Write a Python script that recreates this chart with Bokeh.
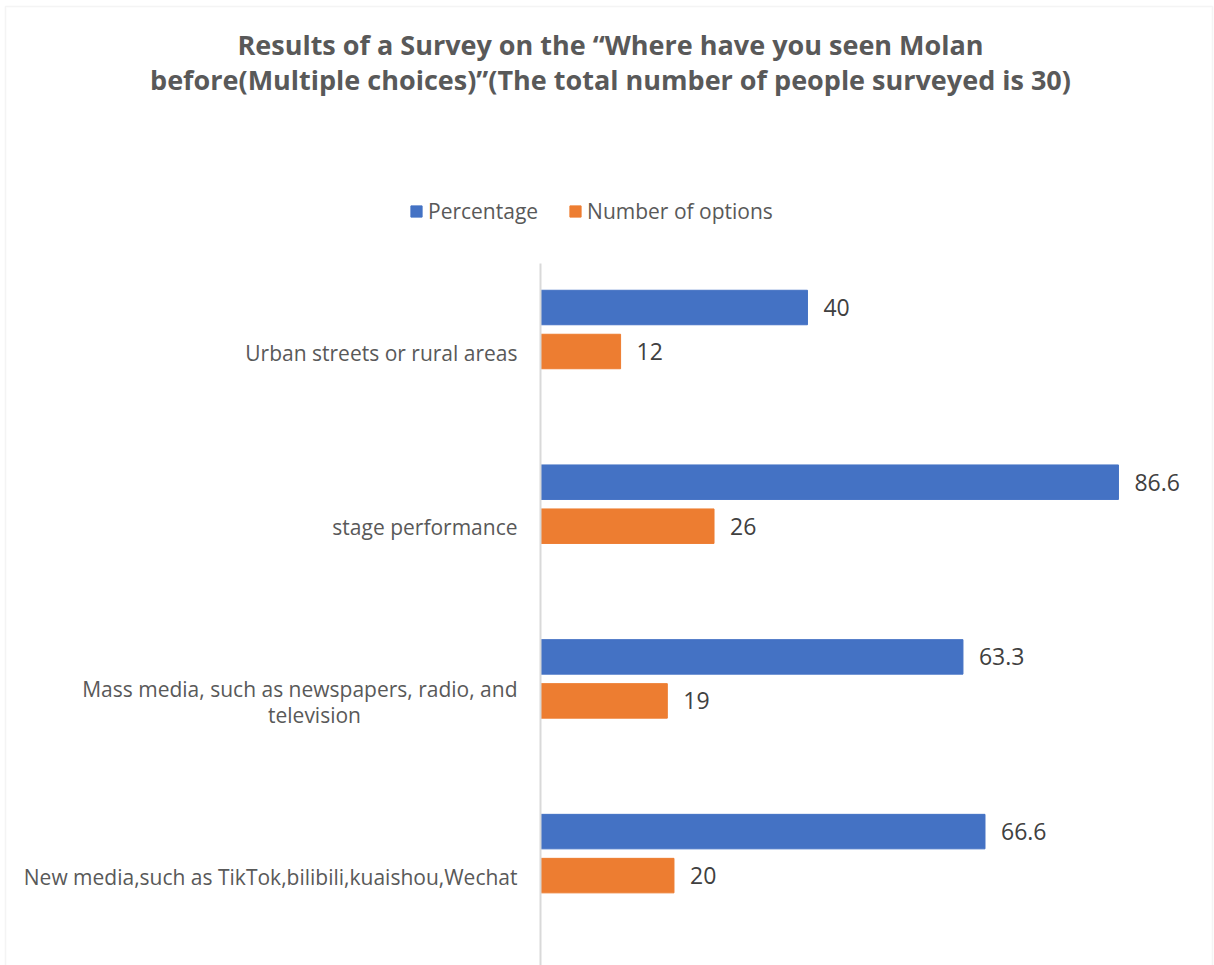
from bokeh.plotting import figure
from bokeh.models import Range1d, Legend, LegendItem, BoxAnnotation, ColumnDataSource
from bokeh.core.properties import value
from bokeh.embed import file_html
from bokeh.resources import INLINE

# ---------------- data ----------------
categories = [
    "Urban streets or rural areas",
    "stage performance",
    "Mass media, such as newspapers, radio, and\ntelevision",
    "New media,such as TikTok,bilibili,kuaishou,Wechat",
]
percentage = [40, 86.6, 63.3, 66.6]
num_options = [12, 26, 19, 20]
series_names = ["Percentage", "Number of options"]
title_lines = [
    "Results of a Survey on the \u201cWhere have you seen Molan",
    "before(Multiple choices)\u201d(The total number of people surveyed is 30)",
]

# ---------------- layout / style ----------------
W, H = 1214, 965
PX_PER_UNIT = 6.674
ZERO_PX = 540
CAT0_PX = 329
CAT_STEP_PX = 174.7
FONT = "Open Sans"
BLUE = "#4472C4"
ORANGE = "#ED7D31"
TXT = "#595959"


def xd(px):
    return (px - ZERO_PX) / PX_PER_UNIT


def yd(py):
    return (py - CAT0_PX) / CAT_STEP_PX


p = figure(width=W, height=H,
           x_range=Range1d(xd(0), xd(W)),
           y_range=Range1d(yd(H), yd(0)),
           x_axis_type=None, y_axis_type=None,
           output_backend="svg", toolbar_location=None,
           min_border=0, min_border_left=0, min_border_right=0,
           min_border_top=0, min_border_bottom=0)
p.grid.visible = False
p.outline_line_color = None
p.background_fill_color = "white"
p.border_fill_color = "white"

# chart border
p.add_layout(BoxAnnotation(left=xd(5), right=xd(1212), top=yd(6), bottom=yd(H + 40),
                           fill_alpha=0, line_color="#d9d9d9", line_width=1.5))

idx = list(range(len(categories)))
off = 22 / CAT_STEP_PX
bar_h = 34.5 / CAT_STEP_PX

src = ColumnDataSource(dict(
    yb=[i - off for i in idx], yo=[i + off for i in idx],
    pct=percentage, num=num_options,
    pct_lbl=[f"{v:g}" for v in percentage], num_lbl=[f"{v:g}" for v in num_options],
))

rb = p.hbar(y="yb", left=0, right="pct", height=bar_h, source=src,
            fill_color=BLUE, line_color=BLUE)
ro = p.hbar(y="yo", left=0, right="num", height=bar_h, source=src,
            fill_color=ORANGE, line_color=ORANGE)

# value labels
for xcol, ycol, lcol in [("pct", "yb", "pct_lbl"), ("num", "yo", "num_lbl")]:
    p.text(x=xcol, y=ycol, text=lcol, source=src, x_offset=16,
           text_align="left", text_baseline="middle",
           text_font=value(FONT), text_font_size="23px", text_color="#404040")

# axis line
p.segment(x0=[0], y0=[yd(263)], x1=[0], y1=[yd(H + 10)], line_color="#d9d9d9", line_width=2)

# category labels
first_x, first_y, first_t = [], [], []
extra_x, extra_y, extra_t = [], [], []
LINE_H = 26
for i, cat in enumerate(categories):
    lines = cat.split("\n")
    n = len(lines)
    for j, line in enumerate(lines):
        ypx = 23 + (j - (n - 1) / 2) * LINE_H
        yy = i + ypx / CAT_STEP_PX
        if j == 0:
            first_x.append(xd(517)); first_y.append(yy); first_t.append(line)
        else:
            extra_x.append(xd(314)); extra_y.append(yy); extra_t.append(line)

p.text(x=first_x, y=first_y, text=first_t, text_align="right", text_baseline="middle",
       text_font=value(FONT), text_font_size="21px", text_color=TXT)
p.text(x=extra_x, y=extra_y, text=extra_t, text_align="center", text_baseline="middle",
       text_font=value(FONT), text_font_size="21px", text_color=TXT)

# title
p.text(x=[xd(610)] * 2, y=[yd(44), yd(79)], text=title_lines,
       text_align="center", text_baseline="middle",
       text_font=value(FONT), text_font_size="27px", text_font_style="bold",
       text_color=TXT)

# legend
legend = Legend(items=[LegendItem(label=series_names[0], renderers=[rb]),
                       LegendItem(label=series_names[1], renderers=[ro])],
                orientation="horizontal", location=(409, H - 225),
                glyph_width=14, glyph_height=14, label_standoff=5, spacing=30,
                padding=0, margin=0, border_line_color=None, background_fill_alpha=0,
                label_text_font=FONT, label_text_font_size="21px",
                label_text_color=TXT, label_height=20)
p.add_layout(legend)

open("out.html", "w").write(file_html(p, INLINE))
